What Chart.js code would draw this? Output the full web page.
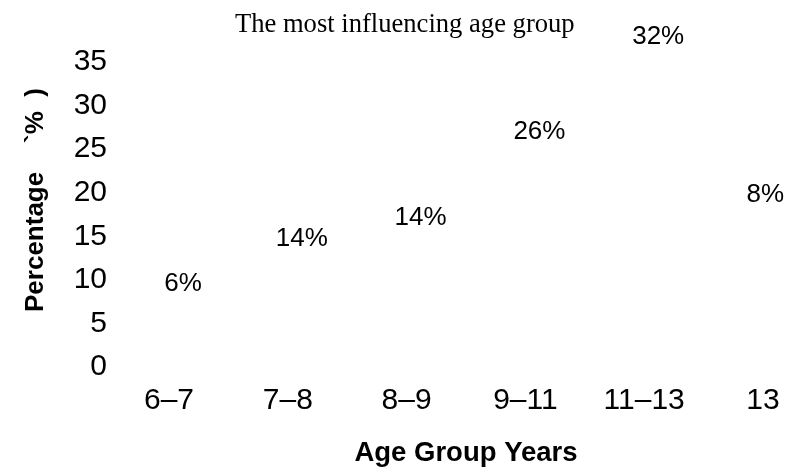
<!DOCTYPE html>
<html>
<head>
<meta charset="utf-8">
<title>The most influencing age group</title>
<script src="https://cdn.jsdelivr.net/npm/chart.js@4.4.1/dist/chart.umd.min.js"></script>
<style>
  html, body { margin: 0; padding: 0; background: #fff; }
  #wrap { width: 787px; height: 473px; }
</style>
</head>
<body>
<div id="wrap"><canvas id="chart" width="787" height="473"></canvas></div>
<script>
// Data
const ageGroups = ['6–7', '7–8', '8–9', '9–11', '11–13', '13'];
const percentages = [6, 14, 14, 26, 32, 8];
// Height (in axis units) at which each value label sits in the original
const labelLevels = [9.5, 14.7, 17.1, 27.0, 37.9, 19.7];
const yTicks = [0, 5, 10, 15, 20, 25, 30, 35];

// Draws the "xx%" labels; the marks themselves are invisible in the original
const valueLabels = {
    id: 'valueLabels',
    afterDraw(chart) {
        const ctx = chart.ctx;
        const xs = chart.scales.x;
        const ys = chart.scales.y;
        ctx.save();
        ctx.font = '26px "Liberation Sans", Arial, sans-serif';
        ctx.fillStyle = '#000';
        ctx.textAlign = 'center';
        ctx.textBaseline = 'middle';
        percentages.forEach((v, i) => {
            const text = v + '%';
            const half = ctx.measureText(text).width / 2;
            let x = xs.getPixelForValue(i) + 14;
            x = Math.min(x, chart.width - half - 3);
            const y = ys.getPixelForValue(labelLevels[i]);
            ctx.fillText(text, x, y);
        });
        ctx.restore();
    }
};

new Chart(document.getElementById('chart'), {
    type: 'line',
    data: {
        labels: ageGroups,
        datasets: [
            {
                label: 'Percentage',
                data: percentages,
                showLine: false,
                pointRadius: 0,
                borderColor: 'transparent',
                backgroundColor: 'transparent'
            }
        ]
    },
    options: {
        responsive: false,
        animation: false,
        devicePixelRatio: 1,
        layout: {
            padding: { left: 0, right: 24, top: 0, bottom: 0 }
        },
        plugins: {
            legend: { display: false },
            tooltip: { enabled: false },
            title: {
                display: true,
                text: '       The most influencing age group',
                color: '#000',
                font: { family: '"Liberation Serif", "Times New Roman", serif', size: 26.6, weight: 'normal' },
                padding: { top: 9, bottom: 21 }
            }
        },
        scales: {
            x: {
                type: 'category',
                offset: false,
                grid: { display: false, drawTicks: false },
                border: { display: false },
                ticks: {
                    color: '#000',
                    padding: 16,
                    maxRotation: 0,
                    autoSkip: false,
                    font: { family: '"Liberation Sans", Arial, sans-serif', size: 30 }
                },
                title: {
                    display: true,
                    text: 'Age Group Years',
                    color: '#000',
                    font: { family: '"Liberation Sans", Arial, sans-serif', size: 27.5, weight: 'bold' },
                    padding: { top: 0, bottom: 3 }
                },
                afterFit(scale) {
                    scale.height = 106;
                    scale.paddingLeft = 0;
                    scale.paddingRight = 0;
                }
            },
            y: {
                min: 0,
                max: 35,
                grid: { display: false, drawTicks: false },
                border: { display: false },
                afterBuildTicks(scale) {
                    scale.ticks = yTicks.map(v => ({ value: v }));
                },
                ticks: {
                    color: '#000',
                    padding: 62,
                    font: { family: '"Liberation Sans", Arial, sans-serif', size: 30 }
                },
                title: {
                    display: true,
                    text: '    Percentage    `%  )',
                    color: '#000',
                    font: { family: '"Liberation Sans", Arial, sans-serif', size: 26, weight: 'bold' },
                    padding: { top: 20, bottom: 0 }
                },
                afterFit(scale) {
                    scale.width = 169;
                    scale.paddingTop = 0;
                    scale.paddingBottom = 0;
                }
            }
        }
    },
    plugins: [valueLabels]
});
</script>
</body>
</html>
